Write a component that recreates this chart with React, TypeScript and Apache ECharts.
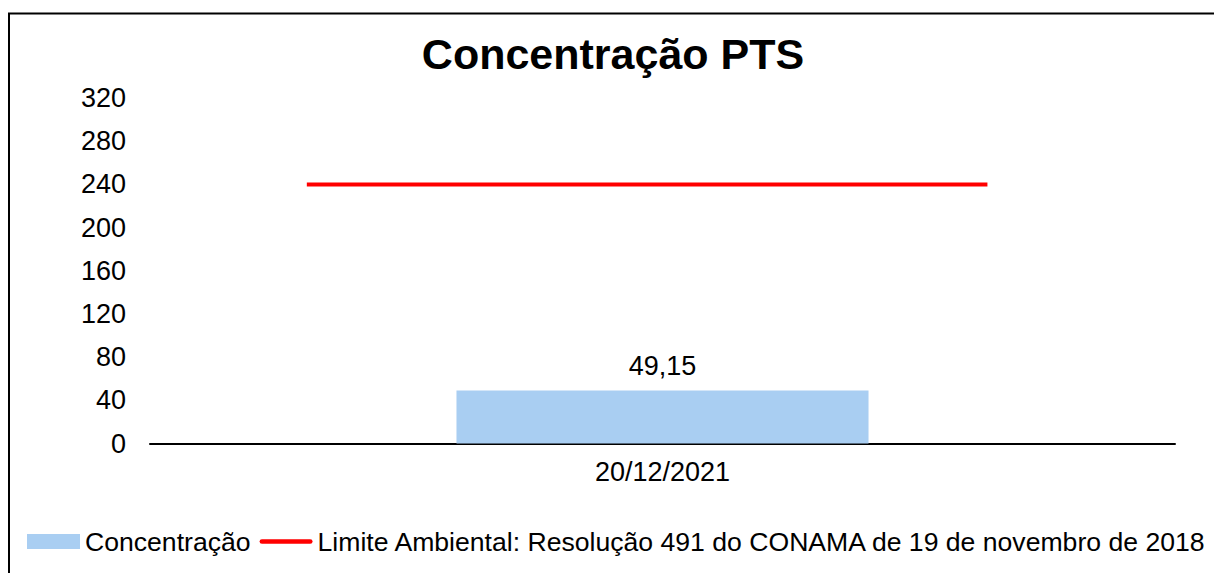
import React, { useEffect, useRef } from "react";
import * as echarts from "echarts";

const titleText = "Concentração PTS";
const categories = ["20/12/2021"];
const concentrationName = "Concentração";
const concentrationValues = [49.15];
const limitName = "Limite Ambiental: Resolução 491 do CONAMA de 19 de novembro de 2018";
const limitValue = 240;
const limitSpan = [0.153, 0.817];
const yMin = 0;
const yMax = 320;
const yInterval = 40;

const FONT = "'Liberation Sans', Arial, sans-serif";
const LINE_ICON =
  "path://M0,0 M56,15 M2.5,5 L53.5,5 A2.5,2.5 0 0 1 53.5,10 L2.5,10 A2.5,2.5 0 0 1 2.5,5 Z";

export default function App() {
  const ref = useRef<HTMLDivElement>(null);
  useEffect(() => {
    if (!ref.current) return;
    const chart = echarts.init(ref.current, null, { renderer: "svg" });
    chart.setOption({
      animation: false,
      backgroundColor: "#ffffff",
      textStyle: { fontFamily: FONT, color: "#000" },
      title: {
        text: titleText,
        left: 608,
        textAlign: "center",
        top: 27,
        textStyle: { fontFamily: FONT, fontSize: 43, fontWeight: "bold", color: "#000" },
      },
      legend: {
        left: 27,
        top: 528,
        width: 1250,
        padding: 0,
        itemWidth: 53,
        itemHeight: 15,
        itemGap: 9,
        textStyle: { fontFamily: FONT, fontSize: 26.6, color: "#000" },
        data: [
          { name: concentrationName, icon: "rect" },
          { name: limitName, icon: LINE_ICON },
        ],
      },
      grid: { left: 150, right: 39, top: 98, bottom: 129.5, containLabel: false },
      xAxis: [
        {
          type: "category",
          data: categories,
          axisLine: { show: true, lineStyle: { color: "#000", width: 2 } },
          axisTick: { show: false },
          axisLabel: { fontFamily: FONT, fontSize: 27, color: "#000", margin: 15 },
          splitLine: { show: false },
        },
        {
          type: "value",
          min: 0,
          max: 1,
          show: false,
          position: "top",
        },
      ],
      yAxis: {
        type: "value",
        min: yMin,
        max: yMax,
        interval: yInterval,
        axisLine: { show: false },
        axisTick: { show: false },
        splitLine: { show: false },
        axisLabel: { fontFamily: FONT, fontSize: 27, color: "#000", margin: 24 },
      },
      series: [
        {
          name: concentrationName,
          type: "bar",
          xAxisIndex: 0,
          data: concentrationValues,
          barWidth: "40.2%",
          itemStyle: { color: "#A9CEF2" },
          label: {
            show: true,
            position: "top",
            distance: 11,
            fontFamily: FONT,
            fontSize: 27,
            color: "#000",
            formatter: (p: any) => String(p.value).replace(".", ","),
          },
        },
        {
          name: limitName,
          type: "line",
          xAxisIndex: 1,
          data: [
            [limitSpan[0], limitValue],
            [limitSpan[1], limitValue],
          ],
          symbol: "none",
          lineStyle: { color: "#FF0000", width: 4 },
          itemStyle: { color: "#FF0000" },
        },
      ],
      graphic: [
        {
          type: "rect",
          shape: { x: 9, y: 13.5, width: 1400, height: 800 },
          style: { fill: "none", stroke: "#000", lineWidth: 2 },
          silent: true,
          z: 100,
        },
      ],
    });
    return () => chart.dispose();
  }, []);
  return (
    <div
      ref={ref}
      style={{ position: "absolute", left: 0, top: 0, width: 1214, height: 573 }}
    />
  );
}
